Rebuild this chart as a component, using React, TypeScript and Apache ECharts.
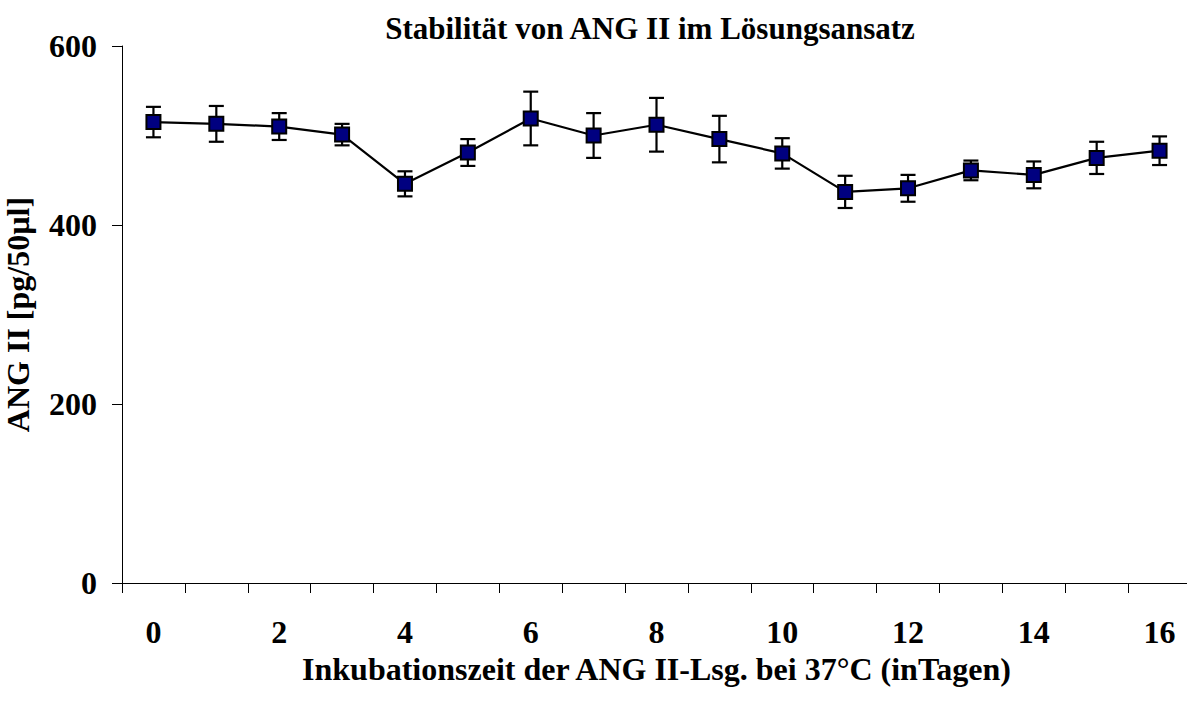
import React, { useEffect, useRef } from "react";
import * as echarts from "echarts";

const days = ["0", "1", "2", "3", "4", "5", "6", "7", "8", "9", "10", "11", "12", "13", "14", "15", "16"];
const meanValues = [515, 513, 510, 501, 446, 481, 519, 500, 512, 496, 480, 437, 441, 461, 456, 475, 483];
const errorValues = [17, 20, 15, 12, 14, 15, 30, 25, 30, 26, 17, 18, 15, 11, 15, 18, 16];
const yTicks = [0, 200, 400, 600];

const titleText = "Stabilität von ANG II im Lösungsansatz";
const xName = "Inkubationszeit der ANG II-Lsg. bei 37°C (inTagen)";
const yName = "ANG II [pg/50µl]";

const FONT = "'Liberation Serif', 'Times New Roman', serif";

export default function App() {
  const ref = useRef<HTMLDivElement>(null);
  useEffect(() => {
    if (!ref.current) return;
    const chart = echarts.init(ref.current, undefined, { renderer: "svg" });
    const errData = days.map((_, i) => [i, meanValues[i] - errorValues[i], meanValues[i] + errorValues[i]]);
    chart.setOption({
      animation: false,
      backgroundColor: "#ffffff",
      title: {
        text: titleText,
        left: 645,
        top: 8,
        textAlign: "center",
        textStyle: { fontFamily: FONT, fontWeight: "bold", fontSize: 31, color: "#000" },
      },
      grid: {
        left: 122,
        top: 46,
        width: 1069,
        height: 537,
        containLabel: false,
        outerBoundsMode: "none",
      },
      xAxis: {
        type: "category",
        data: days,
        boundaryGap: true,
        name: xName,
        nameLocation: "middle",
        nameGap: 64,
        nameTextStyle: { fontFamily: FONT, fontWeight: "bold", fontSize: 32, color: "#000" },
        axisLine: { lineStyle: { color: "#000", width: 1 } },
        axisTick: { show: true, inside: false, length: 10, interval: 0, lineStyle: { color: "#000" } },
        axisLabel: {
          interval: 1,
          margin: 33,
          fontFamily: FONT,
          fontWeight: "bold",
          fontSize: 32,
          color: "#000",
        },
        splitLine: { show: false },
      },
      yAxis: {
        type: "value",
        min: 0,
        max: 600,
        interval: 200,
        name: yName,
        nameLocation: "middle",
        nameGap: 88,
        nameRotate: 90,
        nameTextStyle: { fontFamily: FONT, fontWeight: "bold", fontSize: 32, color: "#000" },
        axisLine: { show: true, lineStyle: { color: "#000", width: 1 } },
        axisTick: { show: true, inside: false, length: 10, lineStyle: { color: "#000" } },
        axisLabel: {
          margin: 25,
          fontFamily: FONT,
          fontWeight: "bold",
          fontSize: 32,
          color: "#000",
          formatter: (v: number) => (yTicks.includes(v) ? String(v) : ""),
        },
        splitLine: { show: false },
      },
      series: [
        {
          type: "custom",
          data: errData,
          z: 3,
          renderItem: (params: any, api: any) => {
            const i = api.value(0);
            const lo = api.coord([i, api.value(1)]);
            const hi = api.coord([i, api.value(2)]);
            const hw = 7.5;
            const style = { stroke: "#000", lineWidth: 2.2 };
            return {
              type: "group",
              children: [
                { type: "line", shape: { x1: lo[0], y1: lo[1], x2: hi[0], y2: hi[1] }, style },
                { type: "line", shape: { x1: hi[0] - hw, y1: hi[1], x2: hi[0] + hw, y2: hi[1] }, style },
                { type: "line", shape: { x1: lo[0] - hw, y1: lo[1], x2: lo[0] + hw, y2: lo[1] }, style },
              ],
            };
          },
        },
        {
          type: "line",
          data: meanValues,
          z: 4,
          symbol: "rect",
          symbolSize: 14,
          lineStyle: { color: "#000", width: 2.2 },
          itemStyle: { color: "#000080", borderColor: "#000", borderWidth: 2 },
        },
      ],
    });
    return () => chart.dispose();
  }, []);
  return (
    <div
      ref={ref}
      style={{ position: "fixed", left: 0, top: 0, width: 1187, height: 706, background: "#fff" }}
    />
  );
}
